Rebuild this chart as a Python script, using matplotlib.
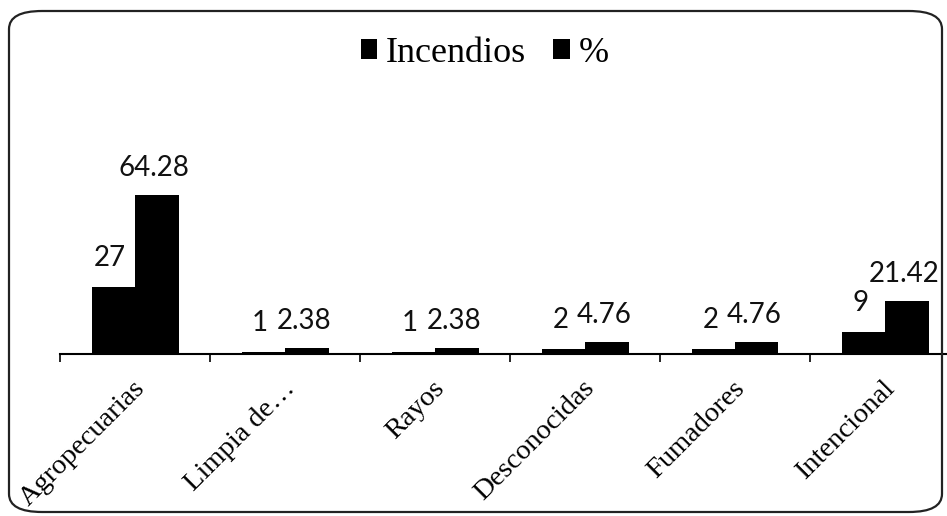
import matplotlib
matplotlib.use("Agg")
import matplotlib.pyplot as plt
import numpy as np
from matplotlib.patches import FancyBboxPatch

categories = ["Agropecuarias", "Limpia de…", "Rayos", "Desconocidas", "Fumadores", "Intencional"]
incendios = [27, 1, 1, 2, 2, 9]
porcentaje = [64.28, 2.38, 2.38, 4.76, 4.76, 21.42]
incendios_labels = ["27", "1", "1", "2", "2", "9"]
porcentaje_labels = ["64.28", "2.38", "2.38", "4.76", "4.76", "21.42"]
series_names = ["Incendios", "%"]

W, H = 947, 516
fig = plt.figure(figsize=(W / 100, H / 100), dpi=100)
fig.patch.set_facecolor("white")

# rounded border
border = FancyBboxPatch((9 / W, 4 / H), (W - 14) / W, (H - 15) / H,
                        boxstyle="round,pad=0,rounding_size=0.035",
                        transform=fig.transFigure, fill=False,
                        edgecolor="#222222", linewidth=1.6)
fig.patches.append(border)

ax = fig.add_axes([60 / W, 162 / H, 900 / W, 173 / H])
x = np.arange(len(categories))
bw = 0.29
b1 = ax.bar(x - bw / 2, incendios, bw, color="black", label=series_names[0])
b2 = ax.bar(x + bw / 2, porcentaje, bw, color="black", label=series_names[1])

ax.set_xlim(-0.5, len(categories) - 0.5)
ax.set_ylim(0, 70)

for s in ["top", "right", "left"]:
    ax.spines[s].set_visible(False)
ax.spines["bottom"].set_linewidth(1.5)
ax.set_yticks([])

ax.set_xticks(x + 0.04)
ax.set_xticklabels(categories, rotation=45, ha="right", va="center",
                   rotation_mode="anchor", family="Liberation Serif", fontsize=20.5)
ax.tick_params(axis="x", which="major", length=0, pad=22)
ax.set_xticks(np.arange(-0.5, len(categories), 1), minor=True)
ax.tick_params(axis="x", which="minor", length=6, width=1.2, direction="out")

lblfont = dict(family="Lato", fontsize=20, ha="center", va="bottom", color="#111111")
for xi, v, t in zip(x, incendios, incendios_labels):
    ax.annotate(t, (xi - bw / 2 - 0.02, v), xytext=(0, 16), textcoords="offset pixels", **lblfont)
for xi, v, t in zip(x, porcentaje, porcentaje_labels):
    ax.annotate(t, (xi + bw / 2 - 0.02, v), xytext=(0, 14), textcoords="offset pixels", **lblfont)

leg = fig.legend(handles=[b1, b2], labels=series_names, loc="center",
                 bbox_to_anchor=(0.512, 0.897), ncol=2, frameon=False,
                 prop=dict(family="Liberation Serif", size=26),
                 handlelength=0.45, handleheight=0.5, handletextpad=0.25,
                 columnspacing=0.75)

fig.savefig("out.png", dpi=100, facecolor="white")
